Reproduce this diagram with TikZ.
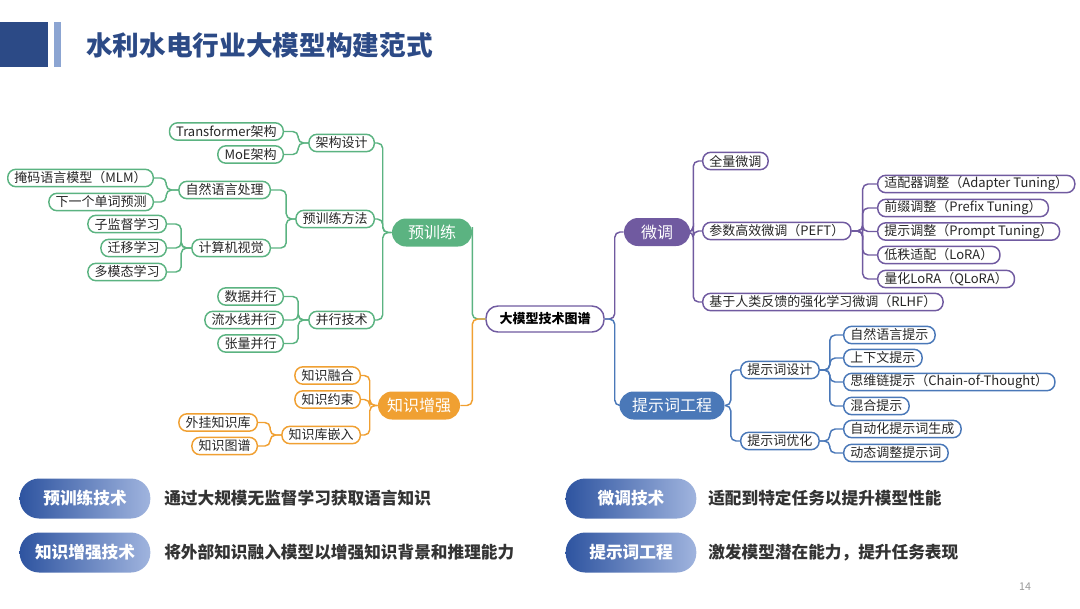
\documentclass[tikz,border=0pt]{standalone}
\usepackage{fontspec}
\setmainfont{Noto Sans CJK SC}
\definecolor{gr}{RGB}{91,179,129}
\definecolor{og}{RGB}{240,160,50}
\definecolor{pu}{RGB}{112,90,160}
\definecolor{bl}{RGB}{74,120,184}
\definecolor{tb}{RGB}{44,74,134}
\definecolor{lbar}{RGB}{140,165,210}
\definecolor{pl}{RGB}{46,84,160}
\definecolor{pr}{RGB}{160,180,222}
\begin{document}
\begin{tikzpicture}[x=0.75pt,y=-0.75pt,
  leaf/.style={draw, fill=white, rounded corners=6pt, line width=1.1pt, minimum height=13pt,
    inner xsep=5pt, inner ysep=0pt, font=\fontsize{9.75}{11}\selectfont, text=black!85},
  gleaf/.style={leaf, draw=gr},
  oleaf/.style={leaf, draw=og},
  pleaf/.style={leaf, draw=pu},
  bleaf/.style={leaf, draw=bl},
  mainnode/.style={rounded corners=10.5pt, minimum height=21pt, text=white, inner sep=0pt,
    font=\fontsize{12}{13}\selectfont},
  con/.style={line width=1.1pt, rounded corners=4pt},
  pill/.style={rounded corners=14.6pt, minimum width=98pt, minimum height=30pt,
    left color=pl, right color=pr, text=white, inner sep=0pt,
    font=\bfseries\fontsize{12.5}{14}\selectfont},
  desc/.style={anchor=west, inner sep=0pt, text=black!80, font=\bfseries\fontsize{12.5}{14}\selectfont}
]
\useasboundingbox (0,0) rectangle (1080,608);
% header
\fill[tb] (0,22) rectangle (48,67);
\fill[lbar] (54,22) rectangle (61,67);
\node[anchor=west, inner sep=0pt, text=tb, font=\bfseries\fontsize{20}{24}\selectfont] (title) at (86,45) {水利水电行业大模型构建范式};

% root
\node[draw=pu, fill=white, line width=1.1pt, rounded corners=9pt, minimum width=88.5pt, minimum height=19.5pt,
  inner sep=0pt, font=\bfseries\fontsize{9.75}{11}\selectfont] (root) at (545,319) {大模型技术图谱};

% green: pretraining
\node[mainnode, fill=gr, minimum width=60pt] (pre) at (432,232.5) {预训练};
\node[gleaf, anchor=east] (arch) at (375,143) {架构设计};
\node[gleaf, anchor=east] (tf) at (284,131.5) {Transformer架构};
\node[gleaf, anchor=east] (moe) at (284,154.5) {MoE架构};
\node[gleaf, anchor=east] (ptm) at (375,219) {预训练方法};
\node[gleaf, anchor=east] (nlp) at (271,190) {自然语言处理};
\node[gleaf, anchor=east] (mlm) at (154,178) {掩码语言模型（MLM）};
\node[gleaf, anchor=east] (nxt) at (154,202) {下一个单词预测};
\node[gleaf, anchor=east] (cv) at (271,248) {计算机视觉};
\node[gleaf, anchor=east] (sub) at (167,224) {子监督学习};
\node[gleaf, anchor=east] (trl) at (167,248) {迁移学习};
\node[gleaf, anchor=east] (mml) at (167,272) {多模态学习};
\node[gleaf, anchor=east] (par) at (375,320) {并行技术};
\node[gleaf, anchor=east] (dp) at (284,296.5) {数据并行};
\node[gleaf, anchor=east] (pp) at (284,320) {流水线并行};
\node[gleaf, anchor=east] (tp) at (284,343.5) {张量并行};

% orange: knowledge
\node[mainnode, fill=og, minimum width=61.5pt] (kaug) at (419,405.5) {知识增强};
\node[oleaf, anchor=east] (kf) at (361,375.5) {知识融合};
\node[oleaf, anchor=east] (kc) at (361,399.5) {知识约束};
\node[oleaf, anchor=east] (kbe) at (361,435) {知识库嵌入};
\node[oleaf, anchor=east] (ext) at (258,422.5) {外挂知识库};
\node[oleaf, anchor=east] (kg) at (258,446) {知识图谱};

% purple: fine-tuning
\node[mainnode, fill=pu, minimum width=49.5pt] (ft) at (657,232) {微调};
\node[pleaf, anchor=west] (full) at (702,161) {全量微调};
\node[pleaf, anchor=west] (peft) at (702,231) {参数高效微调（PEFT）};
\node[pleaf, anchor=west] (rlhf) at (702,302) {基于人类反馈的强化学习微调（RLHF）};
\node[pleaf, anchor=west] (ad) at (877,184) {适配器调整（Adapter Tuning）};
\node[pleaf, anchor=west] (pf) at (877,208) {前缀调整（Prefix Tuning）};
\node[pleaf, anchor=west] (pt) at (877,231.5) {提示调整（Prompt Tuning）};
\node[pleaf, anchor=west] (lora) at (877,255) {低秩适配（LoRA）};
\node[pleaf, anchor=west] (qlora) at (877,279) {量化LoRA（QLoRA）};

% blue: prompt engineering
\node[mainnode, fill=bl, minimum width=78.75pt] (pe) at (672,405.5) {提示词工程};
\node[bleaf, anchor=west] (pd) at (740,370) {提示词设计};
\node[bleaf, anchor=west] (po) at (740,441) {提示词优化};
\node[bleaf, anchor=west] (nl) at (843,335) {自然语言提示};
\node[bleaf, anchor=west] (ctx) at (843,358) {上下文提示};
\node[bleaf, anchor=west] (cot) at (843,382) {思维链提示（Chain-of-Thought）};
\node[bleaf, anchor=west] (mix) at (843,406) {混合提示};
\node[bleaf, anchor=west] (auto) at (843,429) {自动化提示词生成};
\node[bleaf, anchor=west] (dyn) at (843,453) {动态调整提示词};

% connectors
\foreach \c in {arch,ptm,par} \draw[con, gr] (pre.west) -- ++(-9,0) |- (\c.east);
\foreach \c in {tf,moe} \draw[con, gr] (arch.west) -- ++(-10,0) |- (\c.east);
\foreach \c in {nlp,cv} \draw[con, gr] (ptm.west) -- ++(-9,0) |- (\c.east);
\foreach \c in {mlm,nxt} \draw[con, gr] (nlp.west) -- ++(-12,0) |- (\c.east);
\foreach \c in {sub,trl,mml} \draw[con, gr] (cv.west) -- ++(-10,0) |- (\c.east);
\foreach \c in {dp,pp,tp} \draw[con, gr] (par.west) -- ++(-10,0) |- (\c.east);
\foreach \c in {kf,kc,kbe} \draw[con, og] (kaug.west) -- ++(-8,0) |- (\c.east);
\foreach \c in {ext,kg} \draw[con, og] (kbe.west) -- ++(-11,0) |- (\c.east);
\draw[con, gr] (root.west) -- ++(-13,0) |- (pre.east);
\draw[con, og] (root.west) -- ++(-13,0) |- (kaug.east);
\draw[con, pu] (root.east) -- ++(10,0) |- (ft.west);
\draw[con, bl] (root.east) -- ++(10,0) |- (pe.west);
\foreach \c in {full,peft,rlhf} \draw[con, pu] (ft.east) -- ++(3,0) |- (\c.west);
\foreach \c in {ad,pf,pt,lora,qlora} \draw[con, pu] (peft.east) -- ++(11,0) |- (\c.west);
\foreach \c in {pd,po} \draw[con, bl] (pe.east) -- ++(6,0) |- (\c.west);
\foreach \c in {nl,ctx,cot,mix} \draw[con, bl] (pd.east) -- ++(10,0) |- (\c.west);
\foreach \c in {auto,dyn} \draw[con, bl] (po.east) -- ++(10,0) |- (\c.west);

% legend
\node[pill] (l1) at (85,498.5) {预训练技术};
\node[desc] (d1) at (164,498.5) {通过大规模无监督学习获取语言知识};
\node[pill] (l2) at (85,552.5) {知识增强技术};
\node[desc] (d2) at (164,552.5) {将外部知识融入模型以增强知识背景和推理能力};
\node[pill] (l3) at (631,498.5) {微调技术};
\node[desc] (d3) at (708,498.5) {适配到特定任务以提升模型性能};
\node[pill] (l4) at (631,552.5) {提示词工程};
\node[desc] (d4) at (708,552.5) {激发模型潜在能力，提升任务表现};
\node[text=black!40, font=\fontsize{8}{10}\selectfont] (pg) at (1025,587) {14};
\end{tikzpicture}
\end{document}
